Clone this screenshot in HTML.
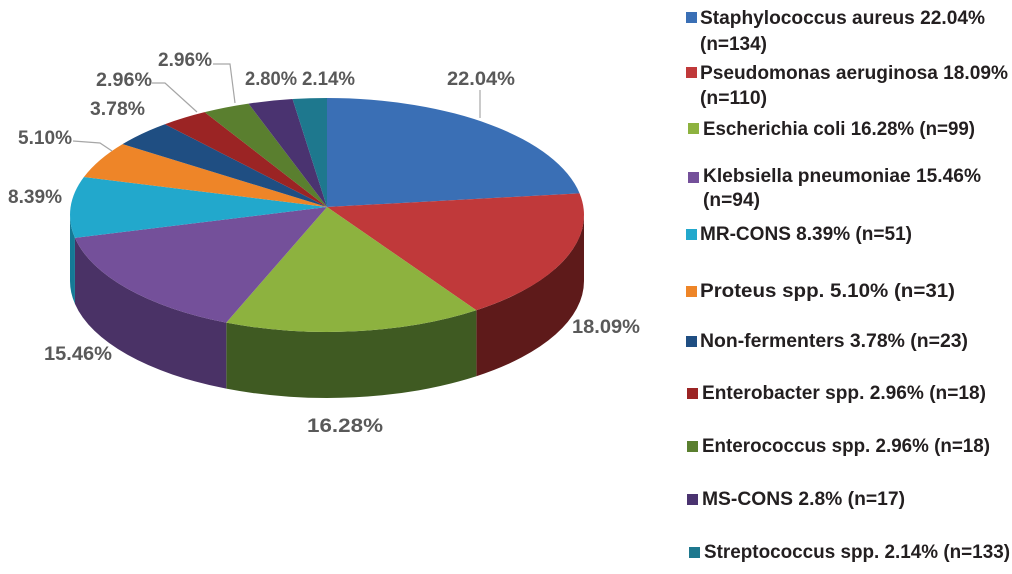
<!DOCTYPE html>
<html><head><meta charset="utf-8"><style>
html,body{margin:0;padding:0;background:#fff;width:1012px;height:574px;overflow:hidden}
svg text{font-family:"Liberation Sans",sans-serif;font-weight:bold}
</style></head><body>
<svg id="s" width="1012" height="574" viewBox="0 0 1012 574" xmlns="http://www.w3.org/2000/svg">
<g id="pie"></g>
<g stroke="#a6a6a6" stroke-width="1.2" fill="none">
<polyline points="480,90 480,118"/>
<polyline points="73,141 100,143 112,151"/>
<polyline points="152,83 165,83 197,112"/>
<polyline points="213,64 230,64 235,103"/>
</g>
<g fill="#595959" font-size="19" lengthAdjust="spacingAndGlyphs">
<text x="447" y="85" textLength="68" lengthAdjust="spacingAndGlyphs">22.04%</text>
<text x="572" y="333" textLength="68" lengthAdjust="spacingAndGlyphs">18.09%</text>
<text x="307" y="432" textLength="76" lengthAdjust="spacingAndGlyphs">16.28%</text>
<text x="44" y="360" textLength="68" lengthAdjust="spacingAndGlyphs">15.46%</text>
<text x="8" y="203" textLength="54" lengthAdjust="spacingAndGlyphs">8.39%</text>
<text x="18" y="144" textLength="54" lengthAdjust="spacingAndGlyphs">5.10%</text>
<text x="90" y="115" textLength="55" lengthAdjust="spacingAndGlyphs">3.78%</text>
<text x="96" y="86" textLength="56" lengthAdjust="spacingAndGlyphs">2.96%</text>
<text x="158" y="66" textLength="54" lengthAdjust="spacingAndGlyphs">2.96%</text>
<text x="245" y="85" textLength="52" lengthAdjust="spacingAndGlyphs">2.80%</text>
<text x="302" y="85" textLength="53" lengthAdjust="spacingAndGlyphs">2.14%</text>
</g>
<g font-size="19" fill="#231f20">
<rect x="686" y="12" width="11" height="11" fill="#3a6fb5"/>
<text x="700" y="24" textLength="285" lengthAdjust="spacingAndGlyphs">Staphylococcus aureus 22.04%</text>
<text x="700" y="50" textLength="67" lengthAdjust="spacingAndGlyphs">(n=134)</text>
<rect x="686" y="67" width="11" height="11" fill="#c0393a"/>
<text x="700" y="79" textLength="308" lengthAdjust="spacingAndGlyphs">Pseudomonas aeruginosa 18.09%</text>
<text x="700" y="104" textLength="67" lengthAdjust="spacingAndGlyphs">(n=110)</text>
<rect x="688" y="123" width="11" height="11" fill="#8db23f"/>
<text x="703" y="135" textLength="272" lengthAdjust="spacingAndGlyphs">Escherichia coli 16.28% (n=99)</text>
<rect x="688" y="172" width="11" height="11" fill="#74509a"/>
<text x="703" y="182" textLength="278" lengthAdjust="spacingAndGlyphs">Klebsiella pneumoniae 15.46%</text>
<text x="703" y="206" textLength="57" lengthAdjust="spacingAndGlyphs">(n=94)</text>
<rect x="686" y="229" width="11" height="11" fill="#22a8cc"/>
<text x="700" y="240" textLength="212" lengthAdjust="spacingAndGlyphs">MR-CONS 8.39% (n=51)</text>
<rect x="686" y="286" width="11" height="11" fill="#ee8528"/>
<text x="700" y="297" textLength="255" lengthAdjust="spacingAndGlyphs">Proteus spp. 5.10% (n=31)</text>
<rect x="686" y="336" width="11" height="11" fill="#1f4e82"/>
<text x="700" y="347" textLength="268" lengthAdjust="spacingAndGlyphs">Non-fermenters 3.78% (n=23)</text>
<rect x="687" y="388" width="11" height="11" fill="#9b2424"/>
<text x="702" y="399" textLength="284" lengthAdjust="spacingAndGlyphs">Enterobacter spp. 2.96% (n=18)</text>
<rect x="687" y="441" width="11" height="11" fill="#5a7f2f"/>
<text x="702" y="452" textLength="288" lengthAdjust="spacingAndGlyphs">Enterococcus spp. 2.96% (n=18)</text>
<rect x="687" y="494" width="11" height="11" fill="#4a3370"/>
<text x="702" y="505" textLength="203" lengthAdjust="spacingAndGlyphs">MS-CONS 2.8% (n=17)</text>
<rect x="689" y="547" width="11" height="11" fill="#1e788e"/>
<text x="704" y="558" textLength="306" lengthAdjust="spacingAndGlyphs">Streptococcus spp. 2.14% (n=133)</text>
</g>
</svg>
<script>
(function(){
var vals=[22.04,18.09,16.28,15.46,8.39,5.10,3.78,2.96,2.96,2.80,2.14];
var top=["#3a6fb5","#c0393a","#8db23f","#74509a","#22a8cc","#ee8528","#1f4e82","#9b2424","#5a7f2f","#4a3370","#1e788e"];
var side=["#24487a","#5e1a1a","#3f5a22","#4a3266","#157a96","#a85a18","#12304f","#5e1414","#3a521e","#2e1f46","#124c5a"];
var cx=327,cy=215,rx=257,ry=117,D=66,ax=327,ay=207;
var tot=vals.reduce(function(a,b){return a+b},0);
function P(t,dy){var r=t*Math.PI/180;return [cx+rx*Math.sin(r),cy-ry*Math.cos(r)+(dy||0)];}
var g=document.getElementById('pie'),a=0,sides='',tops='';
for(var i=0;i<vals.length;i++){
 var b=a+vals[i]/tot*360;
 var s=Math.max(a,90),e=Math.min(b,270);
 if(e>s){var p1=P(s),p2=P(e),q2=P(e,D),q1=P(s,D);
  sides+='<path fill="'+side[i]+'" d="M'+p1+' A'+rx+' '+ry+' 0 0 1 '+p2+' L'+q2+' A'+rx+' '+ry+' 0 0 0 '+q1+' Z"/>';}
 var t1=P(a),t2=P(b),lg=(b-a)>180?1:0;
 tops+='<path fill="'+top[i]+'" d="M'+ax+','+ay+' L'+t1+' A'+rx+' '+ry+' 0 '+lg+' 1 '+t2+' Z"/>';
 a=b;
}
g.innerHTML=sides+tops;
})();
</script>
</body></html>
